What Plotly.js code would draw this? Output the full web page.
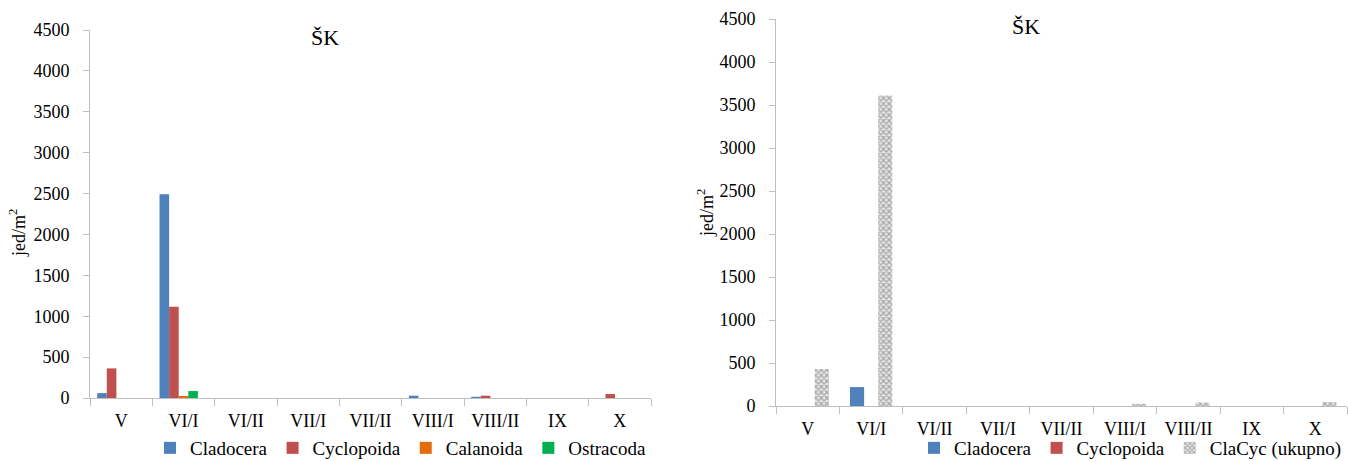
<!DOCTYPE html>
<html>
<head>
<meta charset="utf-8">
<script src="https://cdn.plot.ly/plotly-3.0.1.min.js"></script>
<style>
html, body { margin: 0; padding: 0; background: #fff; }
#left { position: absolute; left: 0; top: 0; width: 674px; height: 461px; }
#right { position: absolute; left: 674px; top: 0; width: 674px; height: 461px; }
</style>
</head>
<body>
<div id="left"></div>
<div id="right"></div>
<script>
// ---- data ----
const categories = ['V', 'VI/I', 'VI/II', 'VII/I', 'VII/II', 'VIII/I', 'VIII/II', 'IX', 'X'];

// left chart
const cladocera  = [60, 2490, 0, 0, 0, 28, 15, 0, 0];
const cyclopoida = [362, 1115, 0, 0, 0, 0, 28, 0, 48];
const calanoida  = [0, 25, 0, 0, 0, 0, 0, 0, 0];
const ostracoda  = [0, 85, 0, 0, 0, 0, 0, 0, 0];
const hiddenSlot = [0, 0, 0, 0, 0, 0, 0, 0, 0];   // empty 5th series slot (not in legend)

// right chart
const cladoceraR  = [0, 220, 0, 0, 0, 0, 0, 0, 0];
const cyclopoidaR = [0, 0, 0, 0, 0, 0, 0, 0, 0];
const claCyc      = [430, 3610, 0, 0, 0, 25, 40, 0, 45];

const yTicks = [0, 500, 1000, 1500, 2000, 2500, 3000, 3500, 4000, 4500];

// ---- style ----
const FONT = 'Liberation Serif, Times New Roman, serif';
const AXIS = '#bfbfbf';
const C_CLA = '#4f81bd', C_CYC = '#c0504d', C_CAL = '#e46c0a', C_OST = '#00b050';

function xaxisCfg() {
  return {
    type: 'category', showline: true, linecolor: AXIS, linewidth: 1,
    ticks: 'outside', tickson: 'boundaries', ticklen: 7, tickcolor: AXIS, tickwidth: 1,
    showgrid: false, zeroline: false, fixedrange: true, automargin: false,
    tickfont: {family: FONT, size: 18, color: '#000'}, ticklabelstandoff: 6
  };
}
function yaxisCfg() {
  return {
    range: [0, 4500], tickvals: yTicks, ticktext: yTicks.map(String),
    showline: true, linecolor: AXIS, linewidth: 1,
    ticks: 'outside', ticklen: 6, tickcolor: AXIS, tickwidth: 1,
    showgrid: false, zeroline: false, fixedrange: true, automargin: false,
    tickfont: {family: FONT, size: 18, color: '#000'}, ticklabelstandoff: 10
  };
}
function legendCfg(y) {
  return {orientation: 'h', x: 1.0, xanchor: 'right', y: y, yanchor: 'middle',
          font: {family: FONT, size: 19, color: '#000'}, itemwidth: 30, traceorder: 'normal',
          bgcolor: 'rgba(0,0,0,0)', borderwidth: 0, itemclick: false, itemdoubleclick: false};
}

// ---- left chart ----
const leftData = [
  {type: 'bar', name: 'Cladocera', x: categories, y: cladocera, marker: {color: C_CLA}},
  {type: 'bar', name: 'Cyclopoida', x: categories, y: cyclopoida, marker: {color: C_CYC}},
  {type: 'bar', name: 'Calanoida', x: categories, y: calanoida, marker: {color: C_CAL}},
  {type: 'bar', name: 'Ostracoda', x: categories, y: ostracoda, marker: {color: C_OST}},
  {type: 'bar', name: 'ClaCyc (ukupno)', x: categories, y: hiddenSlot, showlegend: false, marker: {color: 'rgba(0,0,0,0)'}, hoverinfo: 'skip'}
];
const leftLayout = {
  width: 674, height: 461,
  margin: {l: 90, r: 23, t: 30, b: 63, autoexpand: false},
  paper_bgcolor: '#fff', plot_bgcolor: '#fff',
  barmode: 'group', bargap: 1.5 / 6.5, bargroupgap: 0,
  font: {family: FONT, size: 18, color: '#000'},
  title: {text: 'ŠK', font: {family: FONT, size: 22, color: '#000'},
          x: 325 / 674, xanchor: 'center', y: 1 - 37 / 461, yanchor: 'middle', xref: 'container', yref: 'container'},
  xaxis: xaxisCfg(), yaxis: yaxisCfg(),
  showlegend: true,
  legend: legendCfg((398 - 448) / 368),
  annotations: [{text: 'jed/m<sup>2</sup>', xref: 'paper', yref: 'paper', x: (18 - 90) / 561, y: (398 - 233) / 368,
                 textangle: -90, showarrow: false, xanchor: 'center', yanchor: 'middle',
                 font: {family: FONT, size: 18, color: '#000'}}]
};

// ---- right chart ----
const rightData = [
  {type: 'bar', name: 'Cladocera', x: categories, y: cladoceraR, marker: {color: C_CLA}},
  {type: 'bar', name: 'Cyclopoida', x: categories, y: cyclopoidaR, marker: {color: C_CYC}},
  {type: 'bar', name: 'ClaCyc (ukupno)', x: categories, y: claCyc,
   marker: {color: '#ffffff', pattern: {shape: 'x', fgcolor: '#a6a6a6', bgcolor: '#e6e6e6', size: 4, solidity: 0.5}}}
];
const rightLayout = {
  width: 674, height: 461,
  margin: {l: 102, r: 1, t: 19, b: 55, autoexpand: false},
  paper_bgcolor: '#fff', plot_bgcolor: '#fff',
  barmode: 'group', bargap: 1.5 / 4.5, bargroupgap: 0,
  font: {family: FONT, size: 18, color: '#000'},
  title: {text: 'ŠK', font: {family: FONT, size: 22, color: '#000'},
          x: (1026 - 674) / 674, xanchor: 'center', y: 1 - 26 / 461, yanchor: 'middle', xref: 'container', yref: 'container'},
  xaxis: xaxisCfg(), yaxis: yaxisCfg(),
  showlegend: true,
  legend: legendCfg((406 - 448) / 387),
  annotations: [{text: 'jed/m<sup>2</sup>', xref: 'paper', yref: 'paper', x: (706 - 776) / 571, y: (406 - 213) / 387,
                 textangle: -90, showarrow: false, xanchor: 'center', yanchor: 'middle',
                 font: {family: FONT, size: 18, color: '#000'}}]
};

const cfg = {displayModeBar: false, staticPlot: true};
Plotly.newPlot('left', leftData, leftLayout, cfg);
Plotly.newPlot('right', rightData, rightLayout, cfg);
</script>
</body>
</html>
